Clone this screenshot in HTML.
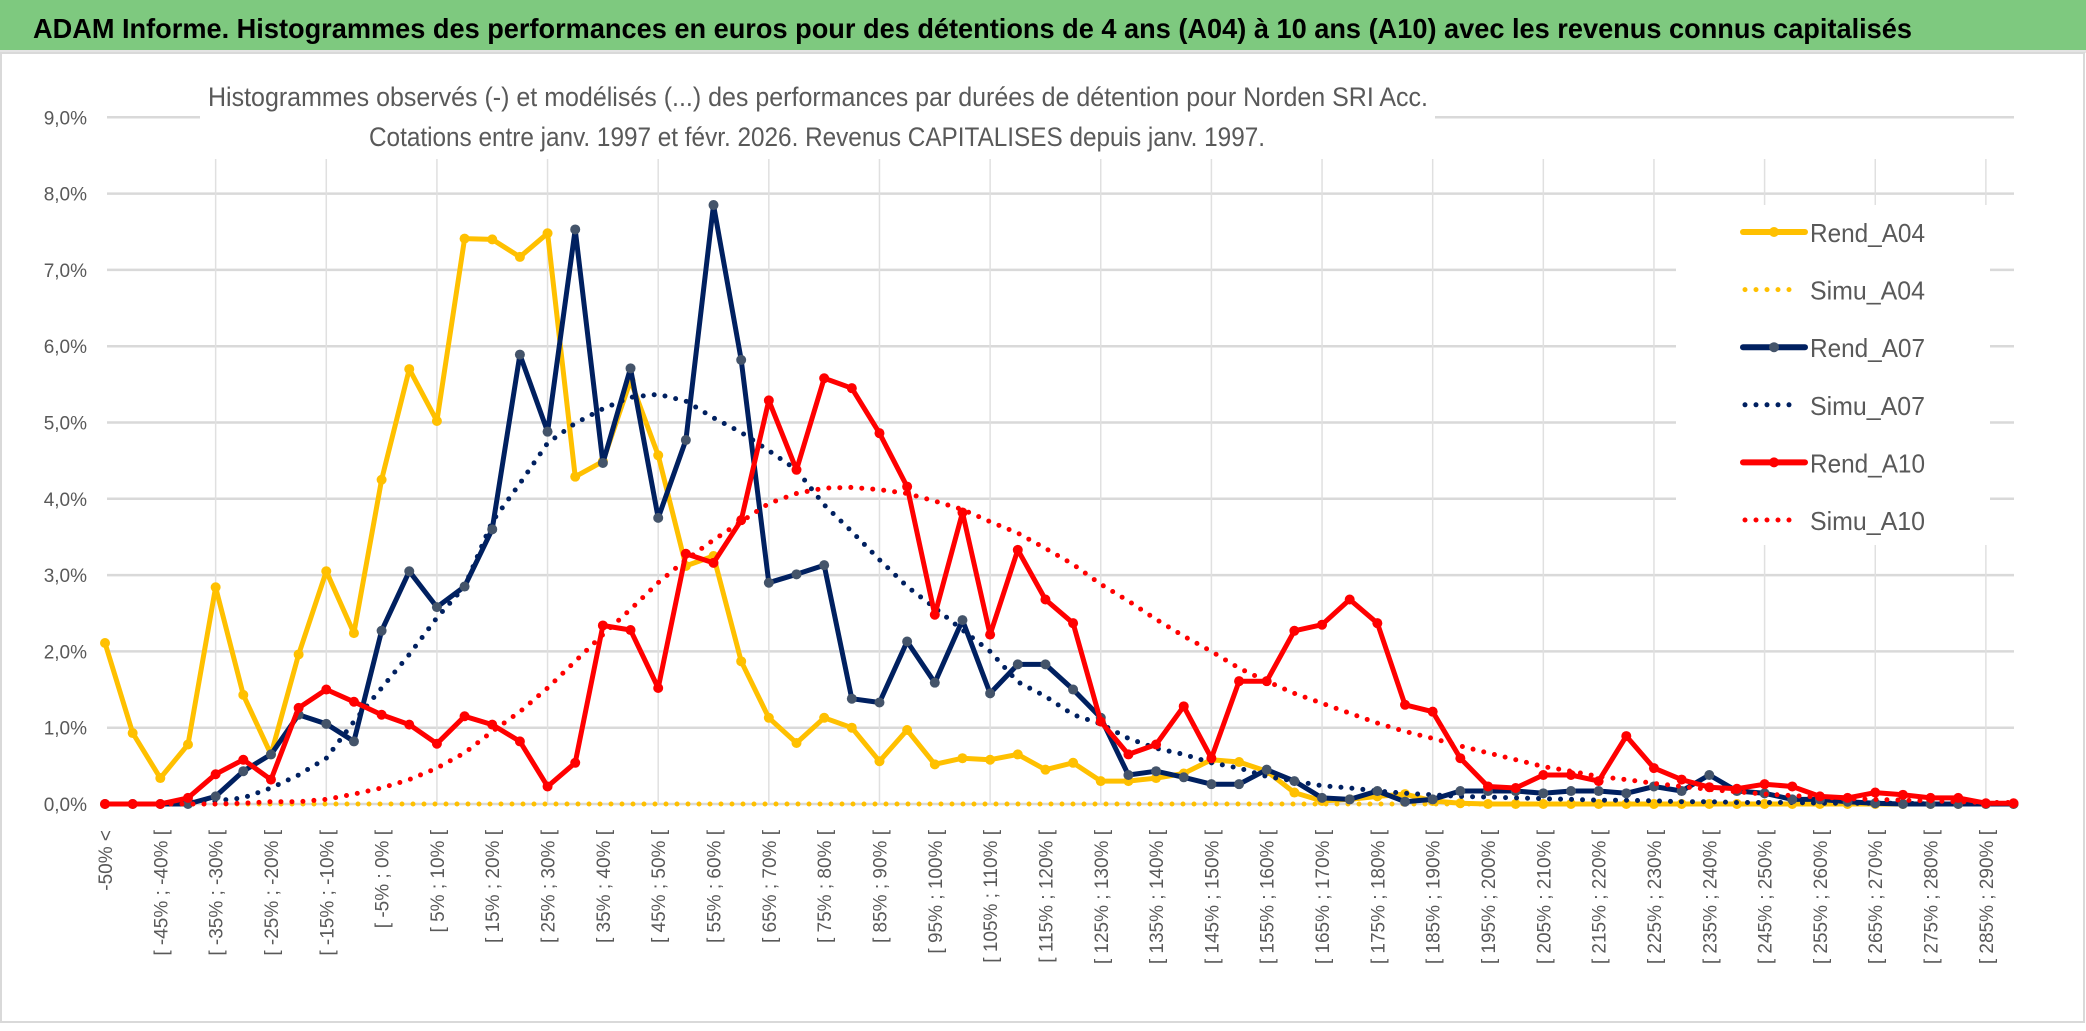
<!DOCTYPE html>
<html><head><meta charset="utf-8"><style>
html,body{margin:0;padding:0;background:#fff;}
svg{display:block;font-family:"Liberation Sans",sans-serif;}
</style></head><body>
<svg id="chart" width="2086" height="1031" viewBox="0 0 2086 1031" xmlns="http://www.w3.org/2000/svg">
<rect x="0" y="0" width="2086" height="1031" fill="#fff"/>
<rect x="0" y="0" width="2086" height="50" fill="#7ec97f"/>
<rect x="0" y="50" width="2086" height="3" fill="#e4e4e4"/>
<text x="33" y="38" font-size="28" font-weight="bold" fill="#000" textLength="1879" lengthAdjust="spacingAndGlyphs">ADAM Informe. Histogrammes des performances en euros pour des détentions de 4 ans (A04) à 10 ans (A10) avec les revenus connus capitalisés</text>
<rect x="1" y="53" width="2083" height="969" fill="none" stroke="#d9d9d9" stroke-width="2"/>
<g id="grid"></g>
<rect x="200" y="62" width="1235" height="97" fill="#fff"/>
<text x="208" y="106" font-size="27" fill="#595959" textLength="1220" lengthAdjust="spacingAndGlyphs">Histogrammes observés (-) et modélisés (...) des performances par durées de détention pour Norden SRI Acc.</text>
<text x="369" y="146" font-size="27" fill="#595959" textLength="896" lengthAdjust="spacingAndGlyphs">Cotations entre janv. 1997 et févr. 2026. Revenus CAPITALISES depuis janv. 1997.</text>
<g id="yaxis"></g>
<g id="xaxis"></g>
<g id="series"></g>
<g id="legend"></g>
</svg>
<script>
const categories = ["-50% <","[ -50% ; -45% [","[ -45% ; -40% [","[ -40% ; -35% [","[ -35% ; -30% [","[ -30% ; -25% [","[ -25% ; -20% [","[ -20% ; -15% [","[ -15% ; -10% [","[ -10% ; -5% [","[ -5% ; 0% [","[ 0% ; 5% [","[ 5% ; 10% [","[ 10% ; 15% [","[ 15% ; 20% [","[ 20% ; 25% [","[ 25% ; 30% [","[ 30% ; 35% [","[ 35% ; 40% [","[ 40% ; 45% [","[ 45% ; 50% [","[ 50% ; 55% [","[ 55% ; 60% [","[ 60% ; 65% [","[ 65% ; 70% [","[ 70% ; 75% [","[ 75% ; 80% [","[ 80% ; 85% [","[ 85% ; 90% [","[ 90% ; 95% [","[ 95% ; 100% [","[ 100% ; 105% [","[ 105% ; 110% [","[ 110% ; 115% [","[ 115% ; 120% [","[ 120% ; 125% [","[ 125% ; 130% [","[ 130% ; 135% [","[ 135% ; 140% [","[ 140% ; 145% [","[ 145% ; 150% [","[ 150% ; 155% [","[ 155% ; 160% [","[ 160% ; 165% [","[ 165% ; 170% [","[ 170% ; 175% [","[ 175% ; 180% [","[ 180% ; 185% [","[ 185% ; 190% [","[ 190% ; 195% [","[ 195% ; 200% [","[ 200% ; 205% [","[ 205% ; 210% [","[ 210% ; 215% [","[ 215% ; 220% [","[ 220% ; 225% [","[ 225% ; 230% [","[ 230% ; 235% [","[ 235% ; 240% [","[ 240% ; 245% [","[ 245% ; 250% [","[ 250% ; 255% [","[ 255% ; 260% [","[ 260% ; 265% [","[ 265% ; 270% [","[ 270% ; 275% [","[ 275% ; 280% [","[ 280% ; 285% [","[ 285% ; 290% [","[ 290% ; 295% ["];
const yTicks = [0,1,2,3,4,5,6,7,8,9];
const yTickLabels = ["0,0%","1,0%","2,0%","3,0%","4,0%","5,0%","6,0%","7,0%","8,0%","9,0%"];
const rendA04 = [2.11,0.93,0.34,0.78,2.84,1.43,0.65,1.96,3.05,2.24,4.25,5.70,5.02,7.41,7.40,7.17,7.48,4.29,4.49,5.55,4.57,3.12,3.25,1.87,1.13,0.80,1.13,1.00,0.56,0.97,0.52,0.60,0.58,0.65,0.45,0.54,0.30,0.30,0.34,0.40,0.58,0.55,0.43,0.15,0.04,0.06,0.10,0.13,0.04,0.01,0,0,0,0,0,0,0,0,0,0,0,0,0,0,0,0,0,0,0,0];
const simuA04 = [0,0,0,0,0,0,0,0,0,0,0,0,0,0,0,0,0,0,0,0,0,0,0,0,0,0,0,0,0,0,0,0,0,0,0,0,0,0,0,0,0,0,0,0,0,0,0,0,0,0,0,0,0,0,0,0,0,0,0,0,0,0,0,0,0,0,0,0,0,0];
const rendA07 = [0,0,0,0,0.10,0.43,0.65,1.17,1.05,0.82,2.27,3.05,2.58,2.85,3.60,5.89,4.88,7.53,4.47,5.71,3.75,4.77,7.85,5.82,2.90,3.01,3.13,1.38,1.33,2.13,1.59,2.41,1.45,1.83,1.83,1.50,1.13,0.38,0.43,0.35,0.26,0.26,0.45,0.30,0.08,0.06,0.17,0.03,0.06,0.17,0.17,0.17,0.14,0.17,0.17,0.14,0.23,0.17,0.38,0.17,0.14,0.06,0.06,0.03,0.01,0,0,0,0,0];
const simuA07 = [0,0,0,0.02,0.04,0.08,0.21,0.38,0.60,1.08,1.52,1.96,2.44,2.85,3.70,4.20,4.73,4.99,5.18,5.33,5.37,5.28,5.06,4.87,4.63,4.38,3.92,3.57,3.20,2.85,2.57,2.28,2.00,1.60,1.41,1.17,1.05,0.86,0.73,0.65,0.54,0.47,0.36,0.30,0.24,0.21,0.17,0.14,0.12,0.10,0.09,0.08,0.07,0.06,0.05,0.05,0.04,0.03,0.03,0.02,0.02,0.02,0.01,0.01,0.01,0.01,0,0,0,0];
const rendA10 = [0,0,0,0.08,0.39,0.58,0.32,1.26,1.50,1.34,1.17,1.04,0.79,1.15,1.04,0.82,0.23,0.54,2.34,2.28,1.52,3.28,3.16,3.72,5.29,4.38,5.58,5.45,4.86,4.16,2.48,3.82,2.22,3.33,2.68,2.37,1.08,0.65,0.78,1.28,0.60,1.61,1.61,2.27,2.35,2.68,2.37,1.30,1.21,0.60,0.23,0.21,0.38,0.38,0.30,0.89,0.47,0.32,0.22,0.20,0.26,0.23,0.10,0.08,0.15,0.12,0.08,0.08,0.01,0.01];
const simuA10 = [0,0,0,0,0,0.01,0.03,0.03,0.06,0.13,0.21,0.32,0.47,0.67,0.95,1.21,1.52,1.87,2.22,2.55,2.90,3.20,3.46,3.70,3.94,4.07,4.14,4.15,4.12,4.07,3.97,3.86,3.70,3.55,3.35,3.14,2.88,2.66,2.42,2.20,2.00,1.78,1.61,1.45,1.32,1.19,1.06,0.95,0.86,0.76,0.67,0.58,0.49,0.43,0.36,0.32,0.27,0.23,0.19,0.16,0.13,0.11,0.09,0.07,0.06,0.05,0.04,0.03,0.02,0.02];
const seriesNames = ["Rend_A04","Simu_A04","Rend_A07","Simu_A07","Rend_A10","Simu_A10"];

const NS = "http://www.w3.org/2000/svg";
const X0 = 105, XSTEP = 27.66, Y0 = 804, YPER = 76.3, XRIGHT = 2014;
function xPos(i){ return X0 + i * XSTEP; }
function yPos(v){ return Y0 - v * YPER; }
function mk(tag, attrs, parent){
  const e = document.createElementNS(NS, tag);
  for (const k in attrs) e.setAttribute(k, attrs[k]);
  parent.appendChild(e); return e;
}
const grid = document.getElementById('grid');
yTicks.forEach((t) => {
  const l = mk('line', {x1: 107, x2: XRIGHT, y1: yPos(t), y2: yPos(t), stroke: '#d9d9d9', 'stroke-width': 2.5}, grid);
  
  
});
for (let i = 4; i < categories.length; i += 4) {
  const l = mk('line', {x1: xPos(i), x2: xPos(i), y1: 159, y2: Y0, stroke: '#e0e0e0', 'stroke-width': 1.5}, grid);
  
  
}
const yaxis = document.getElementById('yaxis');
yTicks.forEach((t, i) => {
  const tx = mk('text', {x: 87, y: yPos(t) + 7, 'text-anchor': 'end', 'font-size': 19, fill: '#595959'}, yaxis);
  tx.textContent = yTickLabels[i];
  
  
});
const xaxis = document.getElementById('xaxis');
categories.forEach((c, i) => {
  if (i % 2) return;
  const x = xPos(i) + 7;
  const tx = mk('text', {x: x, y: 830, 'text-anchor': 'end', 'font-size': 19, fill: '#595959', transform: 'rotate(-90 ' + x + ' 830)'}, xaxis);
  tx.textContent = c;
  
  
});
const seriesG = document.getElementById('series');
function drawSolid(vals, color, marker, name){
  const g = mk('g', {}, seriesG);
  
  
  const pts = vals.map((v, i) => xPos(i).toFixed(1) + ',' + yPos(v).toFixed(1)).join(' ');
  mk('polyline', {points: pts, fill: 'none', stroke: color, 'stroke-width': 5, 'stroke-linejoin': 'round'}, g);
  vals.forEach((v, i) => {
    const c = mk('circle', {cx: xPos(i), cy: yPos(v), r: 5, fill: marker}, g);
    
    
  });
}
function drawDotted(vals, color, name){
  const pts = vals.map((v, i) => xPos(i).toFixed(1) + ',' + yPos(v).toFixed(1)).join(' ');
  const p = mk('polyline', {points: pts, fill: 'none', stroke: color, 'stroke-width': 5, 'stroke-linecap': 'round', 'stroke-dasharray': '0 11'}, seriesG);
  
  
}
drawDotted(simuA04, '#ffc000', 'simu-a04-line');
drawSolid(rendA04, '#ffc000', '#ffc000', 'rend-a04-series');
drawDotted(simuA07, '#002060', 'simu-a07-line');
drawSolid(rendA07, '#002060', '#44546a', 'rend-a07-series');
drawDotted(simuA10, '#ff0000', 'simu-a10-line');
drawSolid(rendA10, '#ff0000', '#ff0000', 'rend-a10-series');

const legend = document.getElementById('legend');
mk('rect', {x: 1676, y: 205, width: 314, height: 340, fill: '#fff'}, legend);
const legColors = ['#ffc000','#ffc000','#002060','#002060','#ff0000','#ff0000'];
const legMarkers = ['#ffc000',null,'#44546a',null,'#ff0000',null];
seriesNames.forEach((n, i) => {
  const cy = 232 + i * 57.6;
  const g = mk('g', {}, legend);
  
  
  if (legMarkers[i]) {
    mk('line', {x1: 1743, x2: 1805, y1: cy, y2: cy, stroke: legColors[i], 'stroke-width': 6, 'stroke-linecap': 'round'}, g);
    mk('circle', {cx: 1774, cy: cy, r: 5, fill: legMarkers[i]}, g);
  } else {
    mk('line', {x1: 1745, x2: 1796, y1: cy, y2: cy, stroke: legColors[i], 'stroke-width': 5, 'stroke-linecap': 'round', 'stroke-dasharray': '0 11'}, g);
  }
  const t = mk('text', {x: 1810, y: cy + 10, 'font-size': 26, fill: '#595959', textLength: 115, lengthAdjust: 'spacingAndGlyphs'}, g);
  t.textContent = n;
});
</script>
</body></html>
